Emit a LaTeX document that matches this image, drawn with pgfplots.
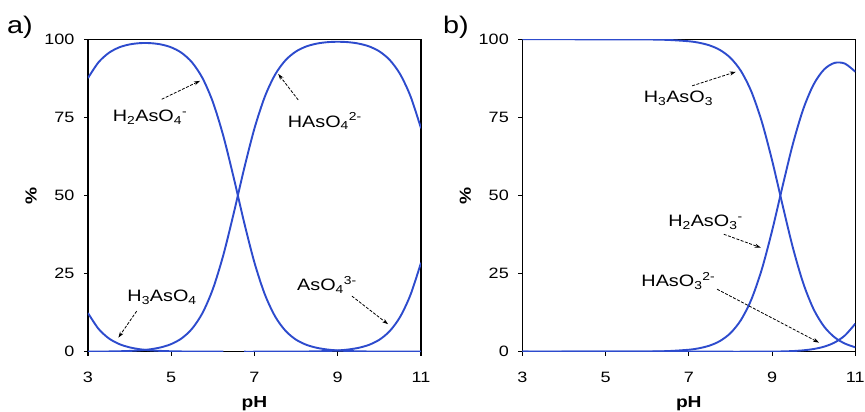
\documentclass[border=0pt]{standalone}
\usepackage{pgfplots}
\pgfplotsset{compat=1.18}
\usepackage{pgfplotstable}
\usepackage{fontspec}
\setmainfont[FakeStretch=1.2]{Liberation Sans}
\usetikzlibrary{arrows.meta}

\definecolor{curve}{RGB}{45,75,205}

% arsenate species (%), panel a
\pgfplotstableread{
pH    H3     H2     H      A
3.00  12.37  87.60  0.02   0
3.25  7.36   92.60  0.04   0
3.50  4.27   95.65  0.08   0
3.75  2.45   97.42  0.14   0
4.00  1.39   98.36  0.25   0
4.25  0.78   98.77  0.44   0
4.50  0.44   98.77  0.78   0
4.75  0.25   98.36  1.39   0
5.00  0.14   97.42  2.45   0
5.25  0.08   95.65  4.27   0
5.50  0.04   92.60  7.36   0
5.75  0.02   87.60  12.37  0
6.00  0.01   79.92  20.07  0
6.25  0      69.12  30.87  0
6.50  0      55.73  44.27  0
6.75  0      41.45  58.55  0
7.00  0      28.47  71.52  0
7.25  0      18.29  81.70  0.01
7.50  0      11.18  88.81  0.01
7.75  0      6.61   93.37  0.02
8.00  0      3.83   96.13  0.04
8.25  0      2.19   97.74  0.07
8.50  0      1.24   98.63  0.12
8.75  0      0.70   99.08  0.22
9.00  0      0.39   99.21  0.39
9.25  0      0.22   99.08  0.70
9.50  0      0.12   98.63  1.24
9.75  0      0.07   97.74  2.19
10.00 0      0.04   96.13  3.83
10.25 0      0.02   93.37  6.61
10.50 0      0.01   88.81  11.18
10.75 0      0.01   81.70  18.29
11.00 0      0      71.52  28.47
}\arsenate

% arsenite species (%), panel b
\pgfplotstableread{
pH    H3     H2     H
3.00  100    0      0
4.00  100    0      0
5.00  99.99  0.01   0
6.00  99.94  0.06   0
6.50  99.80  0.20   0
7.00  99.37  0.63   0
7.25  98.89  1.11   0
7.50  98.04  1.96   0
7.75  96.57  3.43   0
8.00  94.06  5.94   0
8.25  89.91  10.09  0
8.50  83.36  16.63  0.01
8.75  73.80  26.19  0.02
9.00  61.29  38.67  0.04
9.25  47.08  52.83  0.09
9.50  33.32  66.47  0.21
9.75  21.89  77.67  0.44
10.00 13.56  85.58  0.86
10.25 8.05   90.34  1.61
10.50 4.63   92.44  2.92
10.75 2.60   92.22  5.19
11.00 1.42   89.62  8.96
}\arsenite

\pgfplotsset{
  speciation/.style={
    scale only axis,
    width=333pt, height=312.4pt,
    anchor=south west,
    xmin=3, xmax=11, ymin=0, ymax=100,
    xtick={3,5,7,9,11}, ytick={0,25,50,75,100},
    tick pos=left, tick align=outside,
    major tick length=4pt,
    axis line style={line width=1.1pt},
    every tick/.style={black, line width=1.1pt},
    /pgf/number format/assume math mode=true,
    tick label style={font=\fontsize{15}{17}\selectfont},
    xticklabel style={yshift=-13pt},
    yticklabel style={xshift=-6pt},
    xlabel={\textbf{pH}}, ylabel={\textbf{\%}},
    label style={font=\fontsize{16}{18}\selectfont},
    xlabel style={at={(axis description cs:0.5,-0.165)}, anchor=center},
    ylabel style={at={(axis description cs:-0.171,0.5)}, anchor=center},
    every axis plot post/.append style={curve, mark=none, line width=1.9pt, smooth},
  },
}
\tikzset{
  note/.style={font=\fontsize{16.5}{19}\selectfont, inner sep=0pt},
  pointer/.style={-{Stealth[length=6pt,width=4pt]}, black, line width=0.8pt,
    dash pattern=on 3pt off 1.5pt},
}

\begin{document}
\begin{tikzpicture}
\useasboundingbox (-88pt,-60.3pt) rectangle (777pt,351.7pt);

\begin{axis}[speciation, at={(0pt,0pt)}]
\addplot[restrict x to domain=3:6.25] table[x=pH, y=H3] {\arsenate};
\addplot table[x=pH, y=H2] {\arsenate};
\addplot table[x=pH, y=H] {\arsenate};
\addplot[restrict x to domain=6.75:11] table[x=pH, y=A] {\arsenate};
\node[note] at (axis cs:4.49,75.1) {H\textsubscript{2}AsO\textsubscript{4}\textsuperscript{-}};
\draw[pointer] (axis cs:4.77,80.8) -- (axis cs:5.69,86.7);
\node[note] at (axis cs:8.69,73.8) {HAsO\textsubscript{4}\textsuperscript{2-}};
\draw[pointer] (axis cs:8.05,80.6) -- (axis cs:7.57,88.9);
\node[note] at (axis cs:4.78,17.5) {H\textsubscript{3}AsO\textsubscript{4}};
\draw[pointer] (axis cs:4.17,13.0) -- (axis cs:3.73,4.5);
\node[note] at (axis cs:8.74,21.4) {AsO\textsubscript{4}\textsuperscript{3-}};
\draw[pointer] (axis cs:9.34,17.8) -- (axis cs:10.21,8.8);
\end{axis}
\node[font=\fontsize{24}{28}\selectfont] at (-68pt,324.7pt) {a)};

\begin{axis}[speciation, at={(434.3pt,0pt)}]
\addplot table[x=pH, y=H3] {\arsenite};
\addplot table[x=pH, y=H2] {\arsenite};
\addplot table[x=pH, y=H] {\arsenite};
\node[note] at (axis cs:6.75,81.2) {H\textsubscript{3}AsO\textsubscript{3}};
\draw[pointer] (axis cs:7.08,85.1) -- (axis cs:8.13,89.6);
\node[note] at (axis cs:7.40,41.5) {H\textsubscript{2}AsO\textsubscript{3}\textsuperscript{-}};
\draw[pointer] (axis cs:7.84,37.6) -- (axis cs:8.73,33.3);
\node[note] at (axis cs:6.75,22.6) {HAsO\textsubscript{3}\textsuperscript{2-}};
\draw[pointer] (axis cs:7.68,20.0) -- (axis cs:10.13,2.9);
\end{axis}
\node[font=\fontsize{24}{28}\selectfont] at (368pt,324.7pt) {b)};
\end{tikzpicture}
\end{document}
